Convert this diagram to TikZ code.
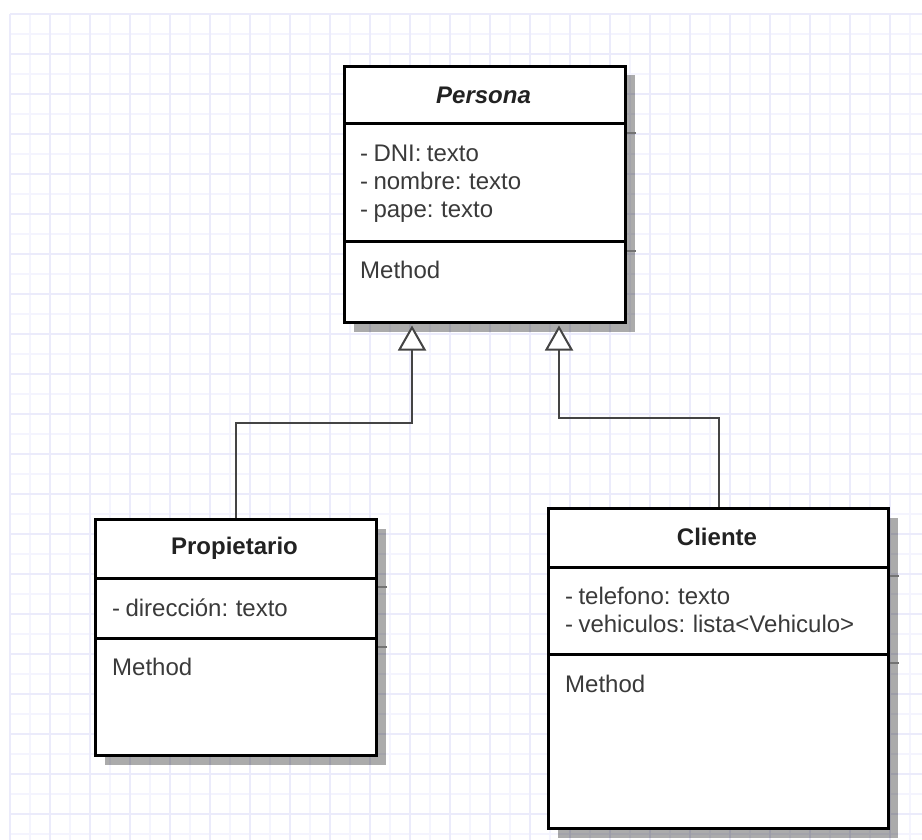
\documentclass[tikz,border=0pt]{standalone}
\usepackage{fontspec}
\setmainfont{Liberation Sans}[WordSpace=0.8]
\usetikzlibrary{arrows.meta,shadows}
\definecolor{gridminor}{HTML}{F4F4FE}
\definecolor{gridmajor}{HTML}{EBEBFB}
\definecolor{txt}{HTML}{3A3A3A}
\definecolor{ttl}{HTML}{222222}
\definecolor{conn}{HTML}{444444}
\tikzset{
  classbox/.style={draw=black, line width=3pt, fill=white, inner sep=0pt, anchor=north west,
    drop shadow={shadow xshift=9pt, shadow yshift=-9pt, opacity=0.33, fill=black}},
  divider/.style={draw=black, line width=3pt},
  divshadow/.style={draw=black!55, line width=1.5pt},
  titletext/.style={font=\fontsize{24}{28}\selectfont\bfseries, text=ttl, inner sep=0pt},
  attrtext/.style={font=\fontsize{24}{28}\selectfont, text=txt, anchor=west, align=left, inner sep=0pt},
  inh/.style={draw=conn, line width=2pt, -{Triangle[length=25pt,width=28pt,fill=white]}, shorten >=1.5pt},
}
\begin{document}
\begin{tikzpicture}[x=1pt,y=-1pt]
\useasboundingbox (0,0) rectangle (922,840);
\fill[white] (0,0) rectangle (922,840);
% grid
\foreach \x in {30,70,...,930} \draw[gridminor, line width=1.5pt] (\x,14) -- (\x,840);
\foreach \y in {34,74,...,850} \draw[gridminor, line width=1.5pt] (10,\y) -- (922,\y);
\foreach \x in {10,50,...,930} \draw[gridmajor, line width=1.5pt] (\x,14) -- (\x,840);
\foreach \y in {14,54,...,850} \draw[gridmajor, line width=1.5pt] (10,\y) -- (922,\y);

% Persona
\node[classbox, minimum width=281pt, minimum height=256pt] (persona) at (343,65) {};
\draw[divshadow] (persona.east |- 0,133) -- ++(9,0);
\draw[divshadow] (persona.east |- 0,251) -- ++(9,0);
\draw[divider] (persona.west |- 0,124) -- (persona.east |- 0,124);
\draw[divider] (persona.west |- 0,242) -- (persona.east |- 0,242);
\node[titletext, font=\fontsize{24}{28}\selectfont\bfseries\itshape] (personaT) at (483.5,95) {Persona};
\node[attrtext] (personaA) at (360,184) {- DNI: texto\\- nombre: texto\\- pape: texto};
\node[attrtext] (personaM) at (360,270) {Method};

% Propietario
\node[classbox, minimum width=281pt, minimum height=236pt] (prop) at (94,518) {};
\draw[divshadow] (prop.east |- 0,587) -- ++(9,0);
\draw[divshadow] (prop.east |- 0,647) -- ++(9,0);
\draw[divider] (prop.west |- 0,578) -- (prop.east |- 0,578);
\draw[divider] (prop.west |- 0,638) -- (prop.east |- 0,638);
\node[titletext] (propT) at (234.5,548) {Propietario};
\node[attrtext] (propA) at (112,608) {- dirección: texto};
\node[attrtext] (propM) at (112,667) {Method};

% Cliente
\node[classbox, minimum width=340pt, minimum height=320pt] (cli) at (547,507) {};
\draw[divshadow] (cli.east |- 0,576) -- ++(9,0);
\draw[divshadow] (cli.east |- 0,663) -- ++(9,0);
\draw[divider] (cli.west |- 0,567) -- (cli.east |- 0,567);
\draw[divider] (cli.west |- 0,654) -- (cli.east |- 0,654);
\node[titletext] (cliT) at (717,537) {Cliente};
\node[attrtext] (cliA) at (565,610) {- telefono: texto\\- vehiculos: lista<Vehiculo>};
\node[attrtext] (cliM) at (565,684) {Method};

% inheritance connectors
\coordinate (bendL) at (412,423);
\coordinate (bendR) at (559,418);
\draw[inh] (prop.north) |- (bendL) -- (persona.south -| bendL);
\draw[inh] (cli.north) |- (bendR) -- (persona.south -| bendR);
\end{tikzpicture}
\end{document}
